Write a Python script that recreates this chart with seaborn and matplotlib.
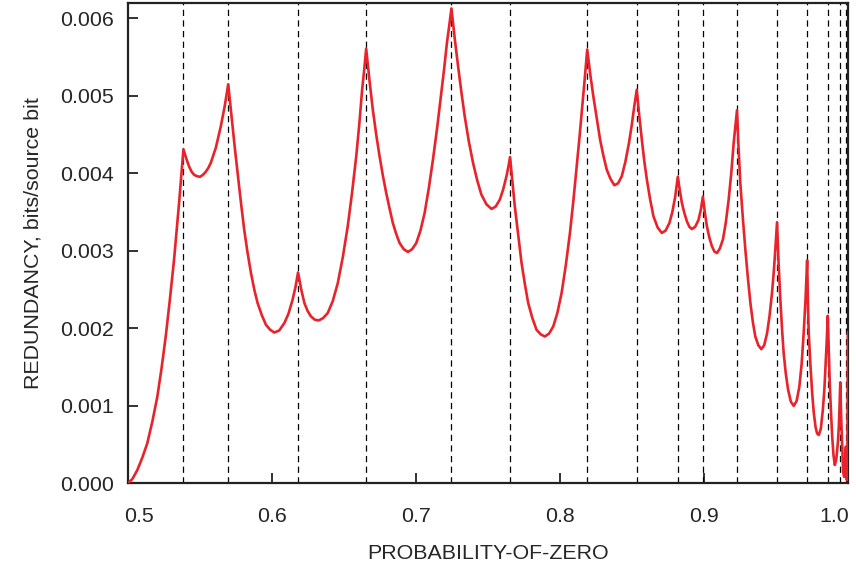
import matplotlib
matplotlib.use("Agg")
import matplotlib.pyplot as plt
import matplotlib.transforms as mtransforms
import seaborn as sns
import pandas as pd

# curve (probability of zero vs redundancy)
prob_zero = [
    0.5000, 0.5030, 0.5065, 0.5100, 0.5134, 0.5170, 0.5204, 0.5233, 0.5262, 0.5291,
    0.5320, 0.5355, 0.5385,
    0.5405, 0.5424, 0.5442, 0.5460, 0.5480, 0.5501, 0.5520, 0.5540, 0.5558, 0.5575,
    0.5610, 0.5645, 0.5672, 0.5696,
    0.5711, 0.5726, 0.5743, 0.5761, 0.5784, 0.5807, 0.5830, 0.5854, 0.5877, 0.5900,
    0.5929, 0.5958, 0.5987, 0.6016, 0.6050, 0.6086, 0.6115, 0.6143, 0.6163, 0.6181,
    0.6203, 0.6225, 0.6248, 0.6271, 0.6297, 0.6324, 0.6355, 0.6387, 0.6422, 0.6457,
    0.6492, 0.6526, 0.6556, 0.6585, 0.6606, 0.6626, 0.6641, 0.6654,
    0.6677, 0.6700, 0.6723, 0.6747, 0.6770, 0.6793, 0.6816, 0.6839, 0.6862, 0.6886,
    0.6915, 0.6944, 0.6973, 0.7002, 0.7031, 0.7060, 0.7089, 0.7118, 0.7147, 0.7176,
    0.7196, 0.7215, 0.7231, 0.7246,
    0.7269, 0.7292, 0.7315, 0.7338, 0.7367, 0.7396, 0.7425, 0.7454, 0.7489, 0.7524,
    0.7553, 0.7582, 0.7605, 0.7628, 0.7641, 0.7653,
    0.7670, 0.7686, 0.7710, 0.7733, 0.7756, 0.7779, 0.7808, 0.7837, 0.7866, 0.7895,
    0.7924, 0.7953, 0.7982, 0.8011, 0.8040, 0.8069, 0.8093, 0.8116, 0.8136, 0.8155,
    0.8172, 0.8189,
    0.8210, 0.8231, 0.8255, 0.8278, 0.8301, 0.8324, 0.8350, 0.8377, 0.8403, 0.8429,
    0.8454, 0.8479, 0.8498, 0.8516, 0.8533,
    0.8550, 0.8568, 0.8585, 0.8603, 0.8626, 0.8649, 0.8678, 0.8707, 0.8733, 0.8760,
    0.8780, 0.8800, 0.8818,
    0.8832, 0.8846, 0.8863, 0.8881, 0.8898, 0.8916, 0.8939, 0.8962, 0.8978, 0.8992,
    0.9006, 0.9020, 0.9037, 0.9055, 0.9072, 0.9090, 0.9110, 0.9131, 0.9151, 0.9171,
    0.9189, 0.9206, 0.9218, 0.9229,
    0.9240, 0.9252, 0.9270, 0.9287, 0.9305, 0.9322, 0.9339, 0.9356, 0.9377, 0.9398,
    0.9418, 0.9438, 0.9455, 0.9472, 0.9484, 0.9495, 0.9507,
    0.9518, 0.9530, 0.9542, 0.9553, 0.9568, 0.9584, 0.9603, 0.9623, 0.9643, 0.9662,
    0.9678, 0.9692, 0.9705, 0.9716,
    0.9721, 0.9727, 0.9739, 0.9751, 0.9762, 0.9774, 0.9785, 0.9797, 0.9811, 0.9825,
    0.9836, 0.9846, 0.9853, 0.9859,
    0.9866, 0.9873, 0.9882, 0.9890, 0.9899, 0.9908, 0.9918, 0.9929, 0.9936, 0.9941, 0.9946,
    0.9951, 0.9957, 0.9962, 0.9966, 0.9973, 0.9980, 0.9985,
    0.9988, 0.9992, 0.9996, 0.9999,
]
redundancy = [
    0.0, 0.00005, 0.000168, 0.00033, 0.000513, 0.00080, 0.001117, 0.00148, 0.00189, 0.00237,
    0.002885, 0.00362, 0.00431,
    0.00419, 0.00409, 0.00402, 0.00398, 0.003962, 0.003955, 0.00398, 0.00402, 0.00407, 0.004135,
    0.00433, 0.00461, 0.00487, 0.00515,
    0.00488, 0.00461, 0.00431, 0.004006, 0.00363, 0.003273, 0.00298, 0.002713, 0.0025, 0.002325,
    0.00217, 0.002044, 0.00198, 0.001944, 0.00197, 0.002066, 0.00219, 0.002367, 0.00253, 0.00272,
    0.0025, 0.002325, 0.00222, 0.002151, 0.00211, 0.0021, 0.00213, 0.002195, 0.00235, 0.002583,
    0.00292, 0.003316, 0.00375, 0.00422, 0.00463, 0.00508, 0.00535, 0.00561,
    0.0052, 0.004825, 0.00451, 0.00422, 0.00397, 0.003748, 0.00355, 0.00336, 0.00322, 0.0031,
    0.00302, 0.002985, 0.00302, 0.0031, 0.00326, 0.003489, 0.00381, 0.00418, 0.00459, 0.00504,
    0.00536, 0.00569, 0.00591, 0.00613,
    0.00574, 0.005386, 0.00505, 0.00474, 0.00441, 0.004136, 0.00391, 0.003726, 0.0036, 0.00354,
    0.00357, 0.00366, 0.00379, 0.00396, 0.00408, 0.00421,
    0.00388, 0.003575, 0.0032, 0.002842, 0.00257, 0.002325, 0.00213, 0.001979, 0.00192, 0.001893,
    0.00193, 0.002022, 0.0022, 0.002454, 0.00281, 0.00323, 0.00365, 0.00409, 0.00448, 0.00487,
    0.00523, 0.0056,
    0.00528, 0.005, 0.00471, 0.004437, 0.00423, 0.00405, 0.00393, 0.003846, 0.00387, 0.003963,
    0.00415, 0.004394, 0.00462, 0.00487, 0.00508,
    0.00475, 0.004437, 0.00416, 0.00392, 0.00366, 0.003445, 0.0033, 0.00323, 0.00326, 0.00336,
    0.0035, 0.0037, 0.003955,
    0.00378, 0.00362, 0.00349, 0.00338, 0.00331, 0.00328, 0.00331, 0.0034, 0.00353, 0.0037,
    0.00349, 0.003316, 0.00317, 0.003057, 0.00299, 0.00297, 0.00303, 0.003144, 0.00336, 0.00366,
    0.004, 0.004394, 0.00461, 0.004816,
    0.00432, 0.003877, 0.00341, 0.003014, 0.00264, 0.002325, 0.00208, 0.001893, 0.00178, 0.001729,
    0.00178, 0.001937, 0.00216, 0.002454, 0.00272, 0.003014, 0.003368,
    0.00283, 0.002367, 0.00198, 0.001678, 0.00141, 0.001203, 0.00105, 0.000996, 0.00106, 0.001246,
    0.00154, 0.001937, 0.00238, 0.002876,
    0.00238, 0.001937, 0.00152, 0.00116, 0.00091, 0.000728, 0.00064, 0.000621, 0.0007, 0.000944,
    0.00122, 0.001591, 0.00187, 0.00216,
    0.0017, 0.00129, 0.0009, 0.0006, 0.00036, 0.000233, 0.0003, 0.000514, 0.00073, 0.000987, 0.0013,
    0.00092, 0.0006, 0.00033, 0.000146, 0.00008, 0.000255, 0.00047,
    0.00018, 0.00004, 0.0004, 0.00195,
]
# dashed vertical lines at the cusps
boundaries = [0.5385, 0.5696, 0.6181, 0.6654, 0.7246, 0.7653, 0.8189, 0.8533,
              0.8818, 0.8992, 0.9229, 0.9507, 0.9716, 0.9859, 0.9946, 0.9985]

x_ticks = [0.5, 0.6, 0.7, 0.8, 0.9, 1.0]
y_ticks = [0.000, 0.001, 0.002, 0.003, 0.004, 0.005, 0.006]

df = pd.DataFrame({"p": prob_zero, "r": redundancy})

sns.set_theme(style="ticks")
plt.rcParams["font.family"] = ["Liberation Sans", "DejaVu Sans"]

fig = plt.figure(figsize=(8.56, 5.73), dpi=100)
ax = fig.add_axes([0.1495, 0.157, 0.8412, 0.8378])

for b in boundaries:
    ax.axvline(b, color="black", lw=0.9, dashes=(5, 3.5), zorder=1)

sns.lineplot(data=df, x="p", y="r", color="#e8232b", lw=1.9,
             estimator=None, sort=False, ax=ax, zorder=3)
ax.lines[-1].set_solid_joinstyle("round")

ax.set_xlim(0.5, 1.0)
ax.set_ylim(0.0, 0.0062)
ax.set_xticks(x_ticks)
ax.set_xticklabels([f"{t:.1f}" for t in x_ticks])
ax.set_yticks(y_ticks)
ax.set_yticklabels([f"{t:.3f}" for t in y_ticks])

ax.tick_params(direction="in", length=7, width=1.3, labelsize=15.4, color="#222222")
ax.tick_params(axis="x", pad=17)
ax.tick_params(axis="y", pad=10)
for s in ax.spines.values():
    s.set_linewidth(1.6)
    s.set_color("#222222")

ax.set_xlabel("PROBABILITY-OF-ZERO", fontsize=15.4, labelpad=13)
ax.set_ylabel("REDUNDANCY, bits/source bit", fontsize=15.4, labelpad=13)

# nudge the end labels inward like the original
labels = ax.get_xticklabels()
labels[0].set_transform(labels[0].get_transform() +
                        mtransforms.ScaledTranslation(11 / 100, 0, fig.dpi_scale_trans))
labels[-1].set_transform(labels[-1].get_transform() +
                         mtransforms.ScaledTranslation(-14 / 100, 0, fig.dpi_scale_trans))

fig.savefig("out.png", dpi=100)
